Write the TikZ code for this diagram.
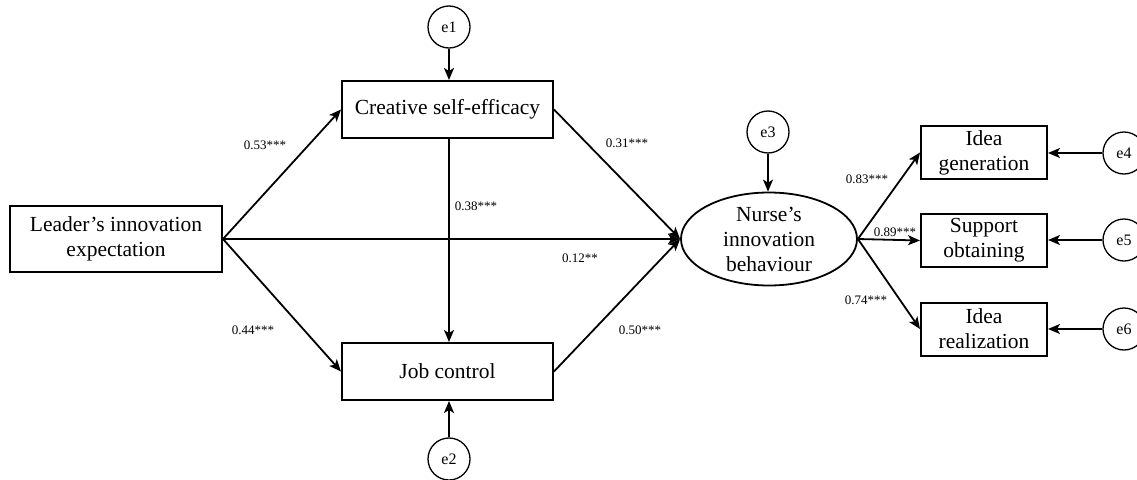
\documentclass[tikz,border=0pt]{standalone}
\usepackage{fontspec}
\setmainfont{Liberation Serif}
\usetikzlibrary{arrows.meta,shapes.geometric}
\begin{document}
\begin{tikzpicture}[x=1pt,y=-1pt,
  every node/.style={inner sep=0pt},
  box/.style={draw,line width=2pt,font=\fontsize{21.5}{25}\selectfont,align=center},
  err/.style={draw,circle,line width=1.3pt,minimum size=42pt,font=\fontsize{16}{18}\selectfont},
  lab/.style={font=\fontsize{13}{15}\selectfont},
  conn/.style={line width=1.8pt,-{Stealth[length=12pt,width=10pt,inset=3pt]}}]
\useasboundingbox (0,0) rectangle (1137,479);
% nodes
\node[box,minimum width=212pt,minimum height=66pt] (lead) at (116,239) {Leader’s innovation\\expectation};
\node[box,minimum width=211pt,minimum height=57pt] (cse) at (447.5,109.5) {Creative self-efficacy};
\node[box,minimum width=211pt,minimum height=57pt] (jc) at (447.5,371.5) {Job control};
\node[draw,ellipse,line width=1.8pt,minimum width=176pt,minimum height=93pt,font=\fontsize{21.5}{25}\selectfont,align=center] (nib) at (769,239) {Nurse’s\\innovation\\behaviour};
\node[box,minimum width=126pt,minimum height=53pt] (ig) at (984,152.5) {Idea\\generation};
\node[box,minimum width=126pt,minimum height=53pt] (so) at (984,240.5) {Support\\obtaining};
\node[box,minimum width=126pt,minimum height=53pt] (ir) at (984,329) {Idea\\realization};
\node[err] (e1) at (449,27) {e1};
\node[err] (e2) at (449,459) {e2};
\node[err] (e3) at (768,132) {e3};
\node[err] (e4) at (1124,153) {e4};
\node[err] (e5) at (1124,240) {e5};
\node[err] (e6) at (1124,329) {e6};
% connectors
\draw[conn] (lead.east) -- (cse.west);
\draw[conn] (lead.east) -- (jc.west);
\draw[conn] (lead.east) -- (nib.west);
\draw[conn] (cse.east) -- (nib.west);
\draw[conn] (jc.east) -- (nib.west);
\draw[conn] (cse.south -| e1) -- (jc.north -| e1);
\draw[conn] (e1.south) -- (e1.south |- cse.north);
\draw[conn] (e2.north) -- (e2.north |- jc.south);
\draw[conn] (e3.south) -- (nib.north -| e3);
\draw[conn] (nib.east) -- (ig.west);
\draw[conn] (nib.east) -- (so.west);
\draw[conn] (nib.east) -- (ir.west);
\draw[conn] (e4.west) -- (ig.east |- e4.west);
\draw[conn] (e5.west) -- (so.east |- e5.west);
\draw[conn] (e6.west) -- (ir.east |- e6.west);
% labels
\node[lab] (l1) at (265,145) {0.53***};
\node[lab] (l2) at (253,330) {0.44***};
\node[lab] (l3) at (476,206) {0.38***};
\node[lab] (l4) at (580,258) {0.12**};
\node[lab] (l5) at (627,143) {0.31***};
\node[lab] (l6) at (640,330) {0.50***};
\node[lab] (l7) at (867,179) {0.83***};
\node[lab] (l8) at (895,232) {0.89***};
\node[lab] (l9) at (866,300) {0.74***};
\end{tikzpicture}
\end{document}
